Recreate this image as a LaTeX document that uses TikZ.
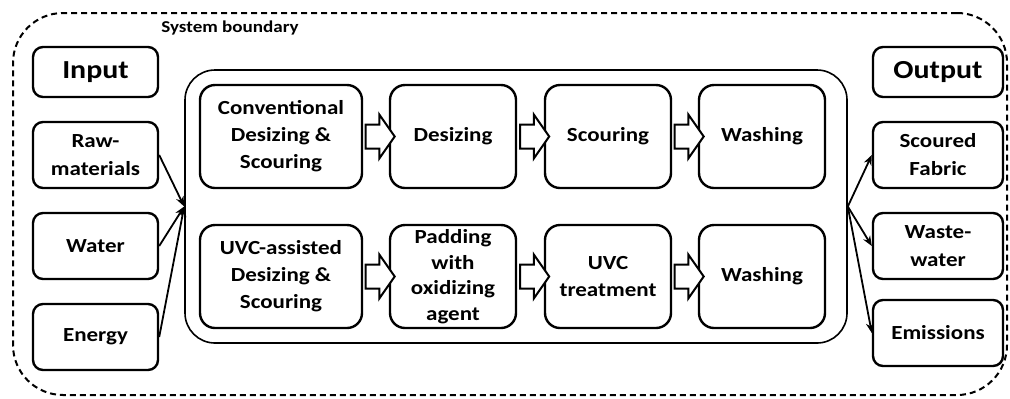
\documentclass[tikz,border=0pt]{standalone}
\usepackage{fontspec}
\setmainfont{Carlito}[FakeStretch=1.15]
\usetikzlibrary{shapes.arrows,arrows.meta,calc}

\tikzset{
  box/.style={draw,line width=1.2pt,rounded corners=5pt,align=center,inner sep=1pt,
    font=\bfseries\fontsize{10}{14}\selectfont},
  sidebox/.style={box,minimum width=62.5pt,minimum height=33pt},
  headbox/.style={sidebox,minimum height=25pt,font=\bfseries\fontsize{13}{15}\selectfont},
  stepbox/.style={box,rounded corners=7.5pt,minimum width=63pt,minimum height=51.5pt,
    font=\bfseries\fontsize{10}{13.5}\selectfont},
  blockarrow/.style={single arrow,draw,line width=1pt,fill=white,inner xsep=2pt,
    inner ysep=5.5pt,single arrow head extend=5pt,single arrow tip angle=110,
    minimum height=14.5pt},
  fan/.style={line width=0.9pt,-{Stealth[length=5pt,width=4pt]}}
}

\begin{document}
\begin{tikzpicture}[x=0.5pt,y=-0.5pt]
	\useasboundingbox (0,0) rectangle (1010,398);
	\node[draw,dash pattern=on 3pt off 2pt,line width=1pt,rounded corners=25pt,
		minimum width=497pt,minimum height=191pt] (sysb) at (510,204) {};
	\node[font=\bfseries\fontsize{8.3}{10}\selectfont] (sblabel) at (230,28) {System boundary};
	\node[draw,line width=0.8pt,rounded corners=15pt,minimum width=331pt,
		minimum height=136.5pt] (proc) at (516,206.5) {};
	% inputs
	\node[headbox] (input) at (95.5,72) {Input};
	\node[sidebox] (raw) at (95.5,155) {Raw-\\materials};
	\node[sidebox] (water) at (95.5,246) {Water};
	\node[sidebox] (energy) at (95.5,337) {Energy};
	% outputs
	\node[headbox,minimum width=65pt] (output) at (938,72) {Output};
	\node[sidebox,minimum width=65pt] (fabric) at (938,155) {Scoured\\Fabric};
	\node[sidebox,minimum width=65pt] (waste) at (938,246) {Waste-\\water};
	\node[sidebox,minimum width=65pt] (emis) at (938,333) {Emissions};
	% conventional route
	\node[stepbox,minimum width=81pt] (conv) at (281,136.5) {Conventional\\Desizing \&\\Scouring};
	\node[stepbox] (desz) at (453,136.5) {Desizing};
	\node[stepbox] (scour) at (608,136.5) {Scouring};
	\node[stepbox] (washa) at (762,136.5) {Washing};
	% UVC route
	\node[stepbox,minimum width=81pt] (uvc) at (281,276.5) {UVC-assisted\\Desizing \&\\Scouring};
	\node[stepbox,font=\bfseries\fontsize{10}{12.8}\selectfont] (pad) at (453,276.5) {Padding\\with\\oxidizing\\agent};
	\node[stepbox] (uvct) at (608,276.5) {UVC\\treatment};
	\node[stepbox] (washb) at (762,276.5) {Washing};
	\foreach \a/\b in {conv/desz,desz/scour,scour/washa,uvc/pad,pad/uvct,uvct/washb}
		\node[blockarrow] (arr-\a) at ($(\a.east)!0.5!(\b.west)$) {};
	\foreach \n in {raw,water,energy}
		\draw[fan] (\n.east) -- (proc.west);
	\foreach \n in {fabric,waste,emis}
		\draw[fan] (proc.east) -- (\n.west);
\end{tikzpicture}
\end{document}
